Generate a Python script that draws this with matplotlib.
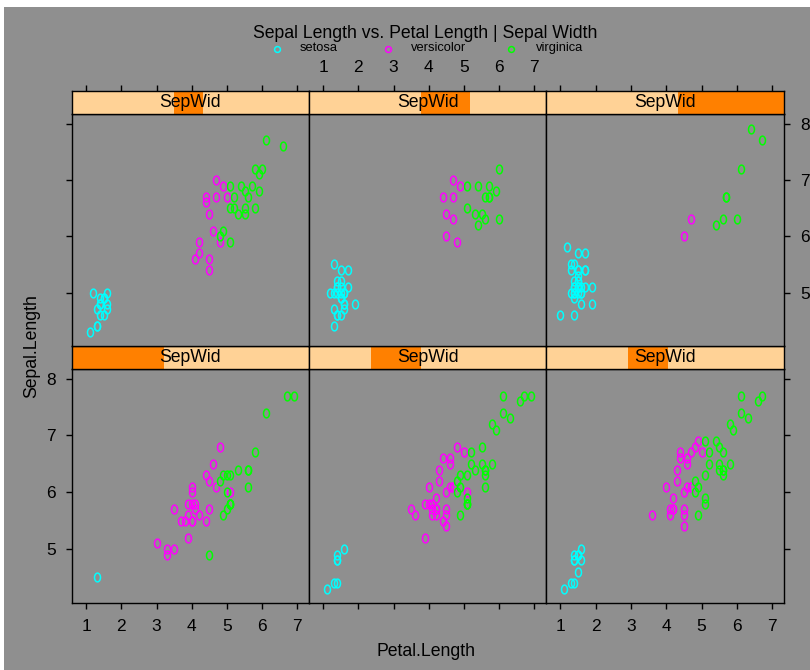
import numpy as np
import matplotlib
matplotlib.use('Agg')
import matplotlib.pyplot as plt
from matplotlib.path import Path
from matplotlib.patches import Rectangle

plt.rcParams['font.family'] = ['Liberation Sans', 'DejaVu Sans']

# iris data (setosa, versicolor, virginica, 50 rows each)
sepal_length = [
    5.1, 4.9, 4.7, 4.6, 5.0, 5.4, 4.6, 5.0, 4.4, 4.9, 5.4, 4.8, 4.8, 4.3, 5.8, 5.7, 5.4, 5.1, 5.7, 5.1,
    5.4, 5.1, 4.6, 5.1, 4.8, 5.0, 5.0, 5.2, 5.2, 4.7, 4.8, 5.4, 5.2, 5.5, 4.9, 5.0, 5.5, 4.9, 4.4, 5.1,
    5.0, 4.5, 4.4, 5.0, 5.1, 4.8, 5.1, 4.6, 5.3, 5.0,
    7.0, 6.4, 6.9, 5.5, 6.5, 5.7, 6.3, 4.9, 6.6, 5.2, 5.0, 5.9, 6.0, 6.1, 5.6, 6.7, 5.6, 5.8, 6.2, 5.6,
    5.9, 6.1, 6.3, 6.1, 6.4, 6.6, 6.8, 6.7, 6.0, 5.7, 5.5, 5.5, 5.8, 6.0, 5.4, 6.0, 6.7, 6.3, 5.6, 5.5,
    5.5, 6.1, 5.8, 5.0, 5.6, 5.7, 5.7, 6.2, 5.1, 5.7,
    6.3, 5.8, 7.1, 6.3, 6.5, 7.6, 4.9, 7.3, 6.7, 7.2, 6.5, 6.4, 6.8, 5.7, 5.8, 6.4, 6.5, 7.7, 7.7, 6.0,
    6.9, 5.6, 7.7, 6.3, 6.7, 7.2, 6.2, 6.1, 6.4, 7.2, 7.4, 7.9, 6.4, 6.3, 6.1, 7.7, 6.3, 6.4, 6.0, 6.9,
    6.7, 6.9, 5.8, 6.8, 6.7, 6.7, 6.3, 6.5, 6.2, 5.9]
sepal_width = [
    3.5, 3.0, 3.2, 3.1, 3.6, 3.9, 3.4, 3.4, 2.9, 3.1, 3.7, 3.4, 3.0, 3.0, 4.0, 4.4, 3.9, 3.5, 3.8, 3.8,
    3.4, 3.7, 3.6, 3.3, 3.4, 3.0, 3.4, 3.5, 3.4, 3.2, 3.1, 3.4, 4.1, 4.2, 3.1, 3.2, 3.5, 3.6, 3.0, 3.4,
    3.5, 2.3, 3.2, 3.5, 3.8, 3.0, 3.8, 3.2, 3.7, 3.3,
    3.2, 3.2, 3.1, 2.3, 2.8, 2.8, 3.3, 2.4, 2.9, 2.7, 2.0, 3.0, 2.2, 2.9, 2.9, 3.1, 3.0, 2.7, 2.2, 2.5,
    3.2, 2.8, 2.5, 2.8, 2.9, 3.0, 2.8, 3.0, 2.9, 2.6, 2.4, 2.4, 2.7, 2.7, 3.0, 3.4, 3.1, 2.3, 3.0, 2.5,
    2.6, 3.0, 2.6, 2.3, 2.7, 3.0, 2.9, 2.9, 2.5, 2.8,
    3.3, 2.7, 3.0, 2.9, 3.0, 3.0, 2.5, 2.9, 2.5, 3.6, 3.2, 2.7, 3.0, 2.5, 2.8, 3.2, 3.0, 3.8, 2.6, 2.2,
    3.2, 2.8, 2.8, 2.7, 3.3, 3.2, 2.8, 3.0, 2.8, 3.0, 2.8, 3.8, 2.8, 2.8, 2.6, 3.0, 3.4, 3.1, 3.0, 3.1,
    3.1, 3.1, 2.7, 3.2, 3.3, 3.0, 2.5, 3.0, 3.4, 3.0]
petal_length = [
    1.4, 1.4, 1.3, 1.5, 1.4, 1.7, 1.4, 1.5, 1.4, 1.5, 1.5, 1.6, 1.4, 1.1, 1.2, 1.5, 1.3, 1.4, 1.7, 1.5,
    1.7, 1.5, 1.0, 1.7, 1.9, 1.6, 1.6, 1.5, 1.4, 1.6, 1.6, 1.5, 1.5, 1.4, 1.5, 1.2, 1.3, 1.4, 1.3, 1.5,
    1.3, 1.3, 1.3, 1.6, 1.9, 1.4, 1.6, 1.4, 1.5, 1.4,
    4.7, 4.5, 4.9, 4.0, 4.6, 4.5, 4.7, 3.3, 4.6, 3.9, 3.5, 4.2, 4.0, 4.7, 3.6, 4.4, 4.5, 4.1, 4.5, 3.9,
    4.8, 4.0, 4.9, 4.7, 4.3, 4.4, 4.8, 5.0, 4.5, 3.5, 3.8, 3.7, 3.9, 5.1, 4.5, 4.5, 4.7, 4.4, 4.1, 4.0,
    4.4, 4.6, 4.0, 3.3, 4.2, 4.2, 4.2, 4.3, 3.0, 4.1,
    6.0, 5.1, 5.9, 5.6, 5.8, 6.6, 4.5, 6.3, 5.8, 6.1, 5.1, 5.3, 5.5, 5.0, 5.1, 5.3, 5.5, 6.7, 6.9, 5.0,
    5.7, 4.9, 6.7, 4.9, 5.7, 6.0, 4.8, 4.9, 5.6, 5.8, 6.1, 6.4, 5.6, 5.1, 5.6, 6.1, 5.6, 5.5, 4.8, 5.4,
    5.6, 5.1, 5.1, 5.9, 5.7, 5.2, 5.0, 5.2, 5.4, 5.1]
species_names = ['setosa', 'versicolor', 'virginica']
species_colors = ['#00FFFF', '#FF00FF', '#00FF00']

# shingle intervals for Sepal.Width (equal.count, 6 levels)
sw_lower = [1.95, 2.55, 2.75, 2.95, 3.05, 3.25]
sw_upper = [2.85, 3.05, 3.15, 3.25, 3.55, 4.45]
strip_range = (1.92, 4.32)

x_ticks = [1, 2, 3, 4, 5, 6, 7]
y_ticks = [5, 6, 7, 8]
xlim = (0.60, 7.33)
ylim = (4.05, 8.17)

sl = np.array(sepal_length)
sw = np.array(sepal_width)
pl = np.array(petal_length)
sp = np.repeat(species_names, 50)

W, H = 810, 670
BG = '#8F8F8F'
STRIP_BG = '#FFD296'
STRIP_BAR = '#FF8000'

fig = plt.figure(figsize=(W / 100, H / 100), dpi=100, facecolor=BG)


def box(x0, y0, x1, y1):
    # pixel box (from top-left) -> figure fraction
    return [x0 / W, 1 - y1 / H, (x1 - x0) / W, (y1 - y0) / H]


t = np.linspace(0, 2 * np.pi, 60)
oval = Path(np.column_stack([0.68 * np.cos(t), np.sin(t)]), closed=True)

cols = [(72, 309), (309, 546), (546, 784)]
rows = {'top': ((91, 114), (114, 346)), 'bottom': ((346, 369), (369, 603))}
tick_kw = dict(direction='out', length=4.5, width=1, colors='black', labelsize=12.5, pad=7)

for i in range(6):
    row = 'bottom' if i < 3 else 'top'
    c = i % 3
    (sy0, sy1), (py0, py1) = rows[row]
    x0, x1 = cols[c]

    ax = fig.add_axes(box(x0, py0, x1, py1))
    ax.set_facecolor(BG)
    mask = (sw >= sw_lower[i]) & (sw <= sw_upper[i])
    for name, color in zip(species_names, species_colors):
        m = mask & (sp == name)
        ax.plot(pl[m], sl[m], linestyle='none', marker=oval, ms=6.3,
                mfc='none', mec=color, mew=1.1)
    ax.set_xlim(*xlim)
    ax.set_ylim(*ylim)
    ax.set_xticks(x_ticks)
    ax.set_yticks(y_ticks)
    for s in ax.spines.values():
        s.set_linewidth(1.0)
    ax.tick_params(**tick_kw)
    ax.tick_params(top=False, bottom=(row == 'bottom'),
                   labelbottom=(row == 'bottom' and c != 1),
                   left=(c == 0), labelleft=(c == 0 and row == 'bottom'),
                   right=(c == 2), labelright=(c == 2 and row == 'top'))

    # strip with the shingle range shown as an orange bar
    st = fig.add_axes(box(x0, sy0, x1, sy1))
    st.set_facecolor(STRIP_BG)
    st.set_xlim(*xlim)
    st.set_ylim(0, 1)
    span = strip_range[1] - strip_range[0]
    a = (sw_lower[i] - strip_range[0]) / span
    if sw_lower[i] == min(sw_lower):
        a = 0.0
    b = min(1.0, (sw_upper[i] - strip_range[0]) / span)
    st.add_patch(Rectangle((a, 0), b - a, 1, transform=st.transAxes,
                           facecolor=STRIP_BAR, edgecolor='none'))
    st.text(0.5, 0.5, 'SepWid', transform=st.transAxes, ha='center', va='center',
            fontsize=12.7)
    for s in st.spines.values():
        s.set_linewidth(1.0)
    st.set_yticks([])
    if row == 'top':
        st.set_xticks(x_ticks)
        st.tick_params(**tick_kw)
        st.tick_params(bottom=False, labelbottom=False, top=True, labeltop=(c == 1))
    else:
        st.set_xticks([])

# title and key
fig.text(425 / W, 1 - 33 / H, 'Sepal Length vs. Petal Length | Sepal Width',
         ha='center', va='center', fontsize=12.7)
key = fig.add_axes([0, 0, 1, 1])
key.axis('off')
key.set_xlim(0, W)
key.set_ylim(H, 0)
key_marker_x = [277, 388, 511]
key_text_x = [300, 411, 536]
for name, color, mx, tx in zip(species_names, species_colors, key_marker_x, key_text_x):
    key.plot([mx], [49], linestyle='none', marker='o', ms=4.2, mfc='none', mec=color, mew=1.1)
    key.text(tx, 48, name, ha='left', va='center', fontsize=9.3)

fig.text(32 / W, 1 - 346 / H, 'Sepal.Length', rotation=90, ha='center', va='center',
         fontsize=12.7)
fig.text(426 / W, 1 - 652 / H, 'Petal.Length', ha='center', va='center', fontsize=12.7)

# thin white margin on the top and left edges
fig.patches.append(Rectangle((0, 1 - 7 / H), 1, 7 / H, transform=fig.transFigure,
                             facecolor='white', edgecolor='none'))
fig.patches.append(Rectangle((0, 0), 4 / W, 1, transform=fig.transFigure,
                             facecolor='white', edgecolor='none'))

fig.savefig('out.png', dpi=100, facecolor=BG)
